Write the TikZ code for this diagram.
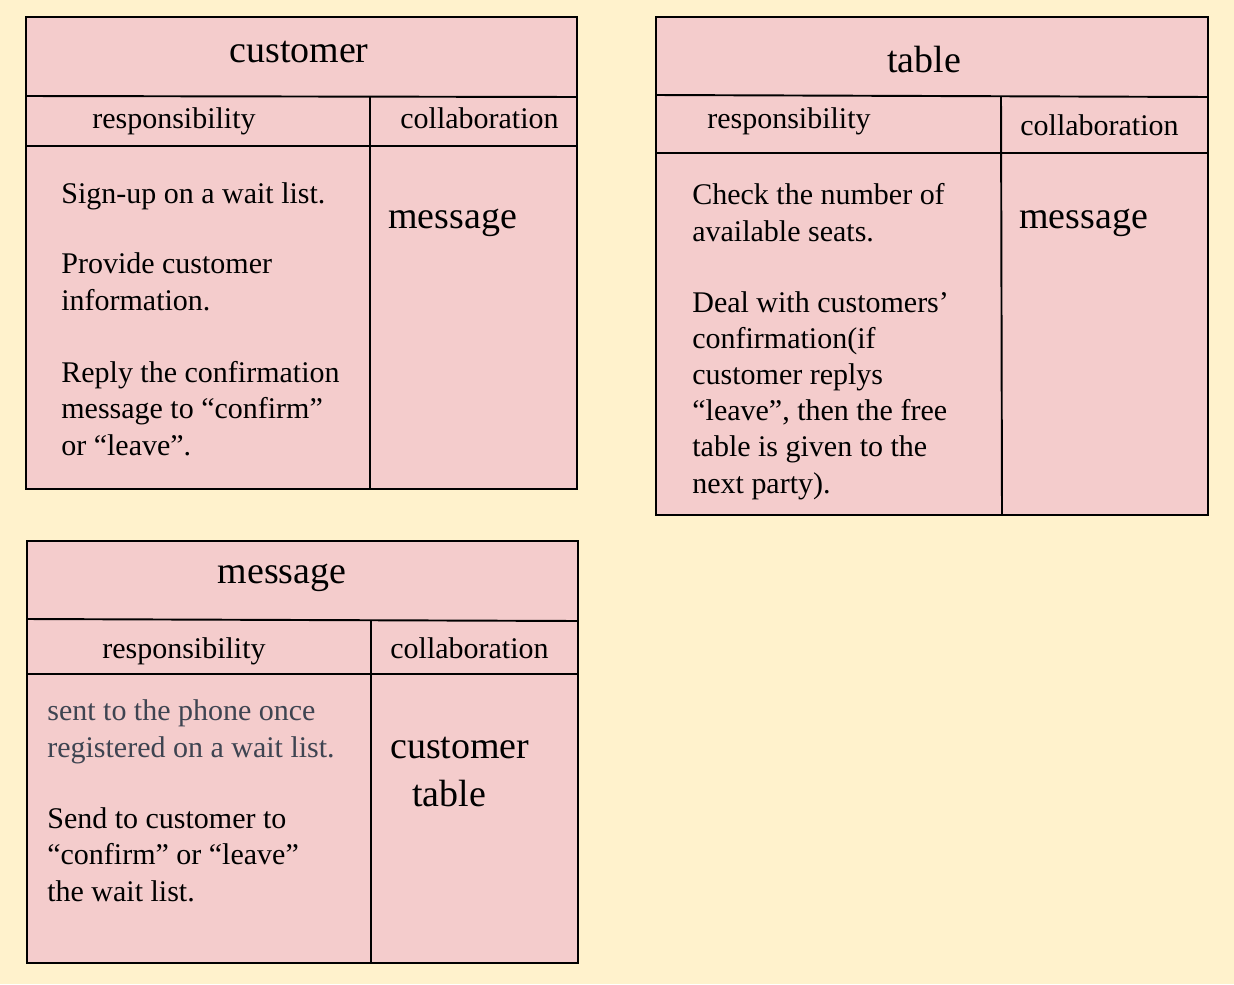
\documentclass[tikz,border=0pt]{standalone}
\usepackage{fontspec}
\setmainfont{Liberation Serif}
\usepackage{xcolor}
\usepackage{tikz}
\definecolor{paper}{HTML}{FFF2CC}
\definecolor{cardpink}{HTML}{F4CCCC}
\definecolor{notegray}{HTML}{3E4451}

\begin{document}
\begin{tikzpicture}[
    x=0.02cm, y=-0.02cm,
    card/.style={draw, fill=cardpink, line width=1.1pt},
    rule/.style={line width=1.1pt},
    title/.style={anchor=base, inner sep=0pt, font=\fontsize{21.6}{26}\selectfont},
    head/.style={anchor=base west, inner sep=0pt, font=\fontsize{17.07}{20.5}\selectfont},
    body/.style={anchor=base west, inner sep=0pt, align=left, font=\fontsize{17.07}{20.5}\selectfont},
    collab/.style={anchor=base west, inner sep=0pt, font=\fontsize{21.6}{27}\selectfont},
]
    % Background
    \fill[paper] (0,0) rectangle (1234,984);
    \useasboundingbox (0,0) rectangle (1234,984);

    % customer card
    \draw[card] (26,17) rectangle (577,489);
    \draw[rule] (26,96) -- (577,97);
    \draw[rule] (26,146) -- (577,146);
    \draw[rule] (370,97) -- (370,489);
    \node[title] (customer) at (299,62) {customer};
    \node[head] (custresp) at (92,128) {responsibility};
    \node[head] (custcollab) at (400,128) {collaboration};
    % base of a wrapped text is its last line
    \node[body] (custtext1) at (61,203) {Sign-up on a wait list.};
    \node[body] (custtext2) at (61,310) {Provide customer\\information.};
    \node[body] (custtext3) at (61,455) {Reply the confirmation\\message to “confirm”\\or “leave”.};
    \node[collab] (custmsg) at (388,228) {message};

    % table card
    \draw[card] (656,17) rectangle (1208,515);
    \draw[rule] (656,95) -- (1208,97);
    \draw[rule] (656,153) -- (1208,153);
    \draw[rule] (1001,97) -- (1002,515);
    \node[title] (table) at (924,72) {table};
    \node[head] (tabresp) at (707,128) {responsibility};
    \node[head] (tabcollab) at (1020,135) {collaboration};
    \node[body] (tabtext1) at (692,241) {Check the number of\\available seats.};
    \node[body] (tabtext2) at (692,493) {Deal with customers’\\confirmation(if\\customer replys\\“leave”, then the free\\table is given to the\\next party).};
    \node[collab] (tabmsg) at (1019,228) {message};

    % message card
    \draw[card] (27,541) rectangle (578,963);
    \draw[rule] (27,619) -- (578,621);
    \draw[rule] (27,674) -- (578,674);
    \draw[rule] (371,621) -- (371,963);
    \node[title] (message) at (282,583) {message};
    \node[head] (msgresp) at (102,658) {responsibility};
    \node[head] (msgcollab) at (390,658) {collaboration};
    \node[body, text=notegray] (msgtext1) at (47,757) {sent to the phone once\\registered on a wait list.};
    \node[body] (msgtext2) at (47,901) {Send to customer to\\“confirm” or “leave”\\the wait list.};
    \node[collab] (msgcust) at (390,758) {customer};
    \node[collab] (msgtab) at (412,806) {table};
\end{tikzpicture}
\end{document}
